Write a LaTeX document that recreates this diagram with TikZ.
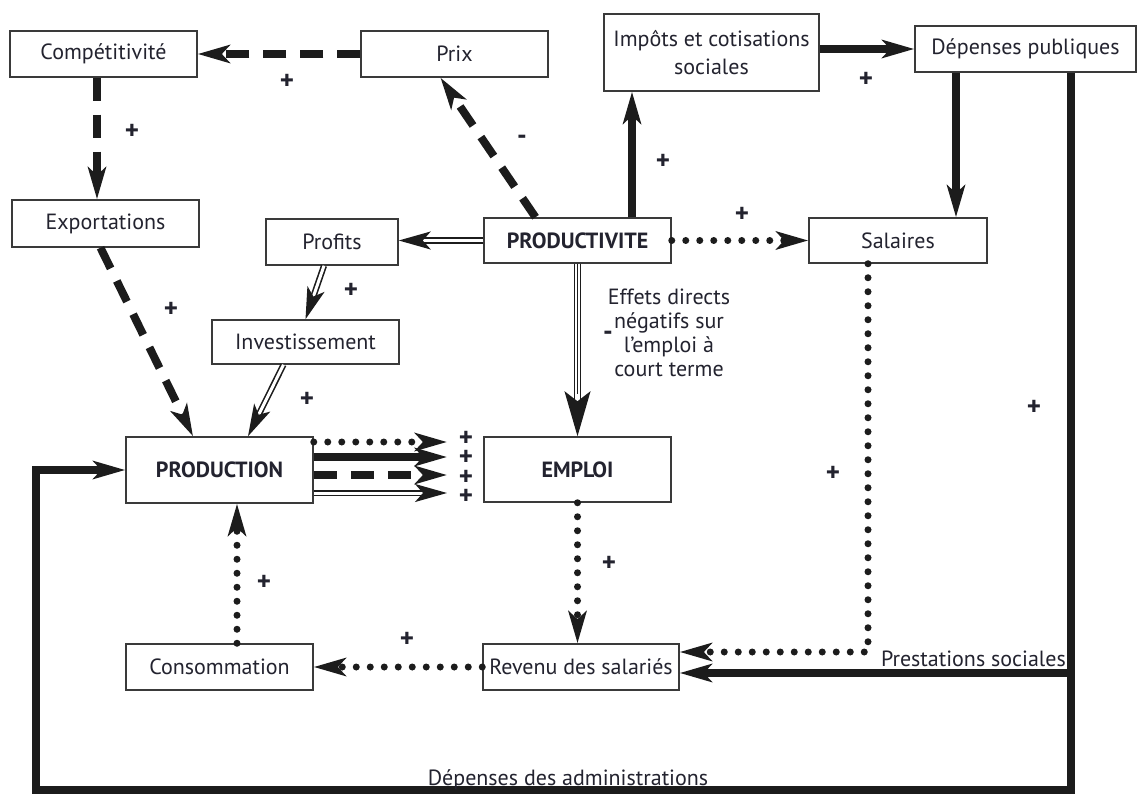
\documentclass[tikz,border=0pt]{standalone}
\usepackage{fontspec}
\setmainfont{PT Sans}
\usetikzlibrary{arrows.meta,calc}
\definecolor{ink}{HTML}{1C1C1C}
\definecolor{txt}{HTML}{23232F}
\definecolor{boxc}{HTML}{3A3A3A}
\begin{document}
\begin{tikzpicture}[x=1pt,y=-1pt,
  box/.style={draw=boxc, line width=1.5pt, fill=white, inner sep=0pt, text=txt,
    font=\fontsize{22}{26}\selectfont, align=center},
  bbox/.style={box, font=\fontsize{22}{26}\selectfont\bfseries},
  lbl/.style={text=txt, inner sep=0pt, font=\fontsize{22}{24}\selectfont},
  pm/.style={text=txt, inner sep=0pt, font=\fontsize{27}{19.5}\selectfont\bfseries},
  tipa/.style={-{Stealth[length=32pt,width=18pt,inset=8pt]}},
  tipbig/.style={-{Stealth[length=45pt,width=26pt,inset=10pt]}},
  solidl/.style={draw=ink, line width=8pt},
  dashl/.style={draw=ink, line width=8pt, dash pattern=on 23pt off 14pt},
  dotl/.style={draw=ink, line width=7pt, line cap=round, dash pattern=on 0pt off 14pt},
  dbll/.style={draw=ink, double=white, double distance=3pt, line width=1.6pt},
]
\useasboundingbox (0,0) rectangle (1138,794);
\fill[white] (0,0) rectangle (1138,794);

% nodes
\node[box, minimum width=187pt, minimum height=46pt] (comp) at (103.5,54) {Compétitivité};
\node[box, minimum width=187pt, minimum height=46pt] (prix) at (454.5,54) {Prix};
\node[box, minimum width=215pt, minimum height=77pt, font=\fontsize{22}{28}\selectfont] (impots) at (711.5,52.5) {Impôts et cotisations\\sociales};
\node[box, minimum width=221pt, minimum height=46pt] (depenses) at (1025.5,49) {Dépenses publiques};
\node[box, minimum width=187pt, minimum height=47pt] (export) at (105.5,223.5) {Exportations};
\node[box, minimum width=132pt, minimum height=46pt] (profits) at (332,242) {Profits};
\node[bbox, minimum width=187pt, minimum height=45pt] (prodv) at (577.5,240.5) {PRODUCTIVITE};
\node[box, minimum width=178pt, minimum height=45pt] (salaires) at (898,240.5) {Salaires};
\node[box, minimum width=187pt, minimum height=44pt] (invest) at (305.5,342) {Investissement};
\node[bbox, minimum width=187pt, minimum height=66pt] (production) at (219.5,470) {PRODUCTION};
\node[bbox, minimum width=187pt, minimum height=65pt] (emploi) at (577.5,469.5) {EMPLOI};
\node[box, minimum width=187pt, minimum height=46pt] (conso) at (219.5,667) {Consommation};
\node[box, minimum width=196pt, minimum height=46pt] (revenu) at (581,667) {Revenu des salariés};

% free ends
\coordinate (pe1) at (447,442);
\coordinate (pe2) at (447,457);
\coordinate (pe3) at (447,475);
\coordinate (pe4) at (447,493);
\coordinate (rtop) at ([xshift=45.5pt]depenses.south);
\coordinate (br) at (1071,790);
\coordinate (bl) at (36,790);
\coordinate (sdrop) at ([xshift=-30pt]salaires.south);

% connectors
\draw[dashl, tipa] (prix.west) -- (comp.east);
\draw[dashl, tipa] ([xshift=-6.5pt]comp.south) -- ([xshift=-6.5pt]comp.south |- export.north);
\draw[dashl, tipa] ([xshift=-42pt]prodv.north) -- ([xshift=-14pt]prix.south);
\draw[solidl, tipa] ([xshift=54.5pt]prodv.north) -- ([xshift=54.5pt]prodv.north |- impots.south);
\draw[solidl, tipa] (impots.east |- depenses.west) -- (depenses.west);
\draw[solidl, tipa] ([xshift=-69.5pt]depenses.south) -- ([xshift=-69.5pt]depenses.south |- salaires.north);
\draw[dotl, tipa] (prodv.east) -- (salaires.west);
\draw[dbll, tipa] (prodv.west) -- (profits.east |- prodv.west);
\draw[dbll, tipa] ([xshift=-8pt]profits.south) -- (invest.north);
\draw[dbll, tipa] ([xshift=-22pt]invest.south) -- ([xshift=28.5pt]production.north);
\draw[dashl, tipa] ([xshift=-5pt]export.south) -- ([xshift=-26.5pt]production.north);
% productivite -> emploi (triple)
\draw[draw=ink, double=white, double distance=4.5pt, line width=1.4pt, tipbig] (prodv.south) -- (emploi.north);
\draw[draw=ink, line width=1.4pt, shorten >=42pt] (prodv.south) -- (emploi.north);
% production -> emploi
\draw[dotl, tipa] (production.east |- pe1) -- (pe1);
\draw[solidl, tipa] (production.east |- pe2) -- (pe2);
\draw[dashl, tipa] (production.east |- pe3) -- (pe3);
\draw[dbll, tipa] (production.east |- pe4) -- (pe4);
% lower part
\draw[dotl, tipa] (emploi.south) -- (emploi.south |- revenu.north);
\draw[dotl, tipa] (revenu.west) -- (conso.east);
\draw[dotl, tipa] ([xshift=17.5pt]conso.north) -- ([xshift=17.5pt]conso.north |- production.south);
\draw[dotl, tipa] (sdrop) -- (sdrop |- 0,652) -- ([yshift=15pt]revenu.east);
\draw[solidl, line join=miter] (rtop) -- (br) -- (bl) -- (bl |- production.west);
\draw[solidl, tipa] ([xshift=-4pt]bl |- production.west) -- (production.west);
\draw[solidl, tipa] ([xshift=3.5pt]rtop |- 0,673) -- ([yshift=-6pt]revenu.east);

% texts
\node[lbl, align=center, font=\fontsize{22}{24}\selectfont] (eff) at (669,333) {Effets directs\\ négatifs sur\\ l’emploi à\\ court terme};
\node[lbl, anchor=base east] (prest) at (1066,666) {Prestations sociales};
\node[lbl, anchor=base] (dadm) at (568,785) {Dépenses des administrations};

% signs
\node[pm] at (287,82) {+};
\node[pm] at (132,132) {+};
\node[pm] at (522,140) {-};
\node[pm] at (663,162) {+};
\node[pm] at (866,80) {+};
\node[pm] at (742,215) {+};
\node[pm] at (351,291) {+};
\node[pm] at (171,310) {+};
\node[pm] at (307,400) {+};
\node[pm] at (608,336) {-};
\node[pm, align=center] (plusstack) at (466,468) {+\\+\\+\\+};
\node[pm] at (264,583) {+};
\node[pm] at (407,640) {+};
\node[pm] at (609,564) {+};
\node[pm] at (833,474) {+};
\node[pm] at (1034,408) {+};
\end{tikzpicture}
\end{document}
